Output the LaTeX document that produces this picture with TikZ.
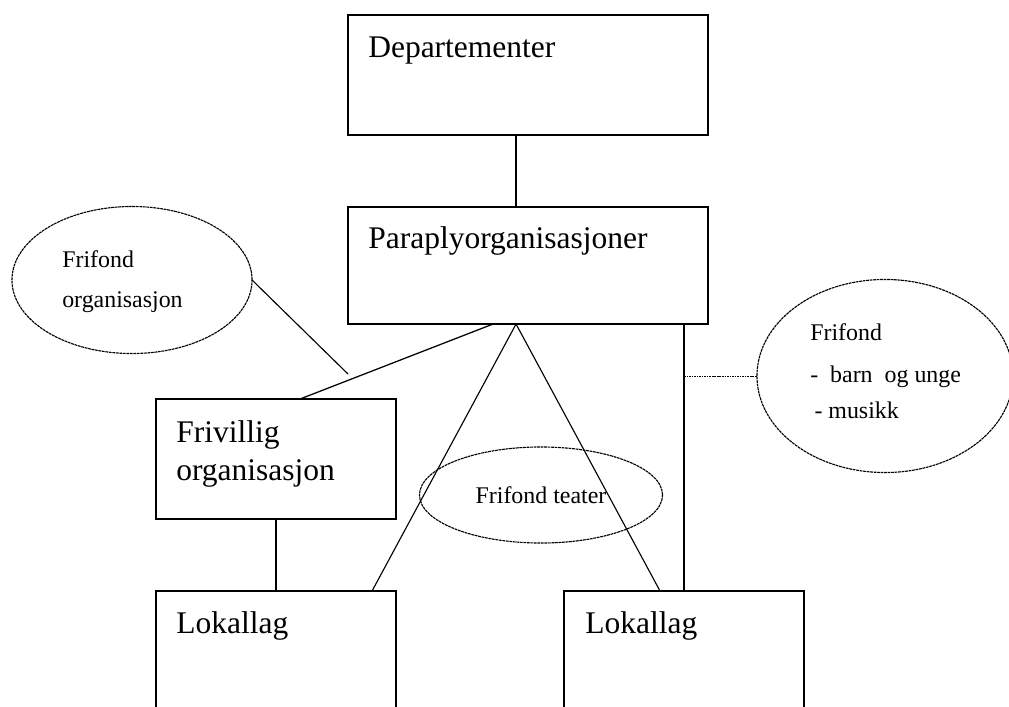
\documentclass[tikz,border=0pt]{standalone}
\usepackage{fontspec}
\setmainfont{Liberation Serif}
\usetikzlibrary{shapes.geometric}

\newcommand{\orgfont}{\fontsize{22.4}{27}\selectfont}
\newcommand{\fondfont}{\fontsize{17}{27.6}\selectfont}

\begin{document}
\begin{tikzpicture}[x=0.025cm, y=-0.025cm,
    box/.style={draw, line width=1pt, anchor=north west, outer sep=0pt, inner sep=0pt},
    boxtext/.style={anchor=base west, inner sep=0pt, font=\orgfont, align=left},
    oval/.style={draw, ellipse, line width=0.8pt, dash pattern=on 2pt off 0.5pt, inner sep=0pt, outer sep=0pt},
    fondtext/.style={anchor=base west, inner sep=0pt, font=\fondfont, align=left},
    link/.style={line width=0.9pt},
    thinlink/.style={line width=0.8pt}]
    \useasboundingbox (0,0) rectangle (1009,706);
    \clip (0,0) rectangle (1009,706);

    % Boxes
    \node[box, minimum width=9cm, minimum height=3cm] (dep) at (348,15) {};
    \node[boxtext] (depT) at (368,57) {Departementer};
    \node[box, minimum width=9cm, minimum height=2.925cm] (para) at (348,207) {};
    \node[boxtext] (paraT) at (368,248) {Paraplyorganisasjoner};
    \node[box, minimum width=6cm, minimum height=3cm] (friv) at (156,399) {};
    \node[boxtext] (frivT) at (176,480) {Frivillig\\organisasjon};
    \node[box, minimum width=6cm, minimum height=3.5cm] (lok1) at (156,591) {};
    \node[boxtext] (lok1T) at (176,633) {Lokallag};
    \node[box, minimum width=6cm, minimum height=3.5cm] (lok2) at (564,591) {};
    \node[boxtext] (lok2T) at (585,633) {Lokallag};

    % Frifond ovals
    \node[oval, minimum width=6cm, minimum height=3.675cm] (orgOval) at (132,280) {};
    \node[fondtext] (orgT) at (62,307) {Frifond\\[0.6pt]organisasjon};
    \node[oval, minimum width=6.4cm, minimum height=4.825cm] (fondOval) at (885,376) {};
    \node[fondtext] (fondT) at (810,418) {Frifond\\[2.2pt]-\ \ barn\ \ og unge\\[-2pt]\hspace{3pt}- musikk};
    \node[oval, minimum width=6.075cm, minimum height=2.4cm, font=\fondfont] (teater) at (541,495) {Frifond teater};

    % Connectors
    \coordinate (orgEnd) at (348,374);
    \coordinate (fondTap) at (684,376);
    \draw[link] ([xshift=-0.3cm]dep.south) -- ([xshift=-0.3cm]para.north);
    \draw[link] ([xshift=-0.875cm]para.south) -- ([xshift=0.6cm]friv.north);
    \draw[link] (friv.south) -- (lok1.north);
    \draw[thinlink] ([xshift=2.4cm]lok1.north) -- ([xshift=-0.3cm]para.south) -- ([xshift=-0.6cm]lok2.north);
    \draw[link] (para.south -| lok2.north) -- (lok2.north);
    \draw[thinlink] (orgOval.east) -- (orgEnd);
    \draw[line width=0.7pt, dash pattern=on 1.2pt off 0.6pt] (fondTap) -- (fondOval.west);

\end{tikzpicture}
\end{document}
